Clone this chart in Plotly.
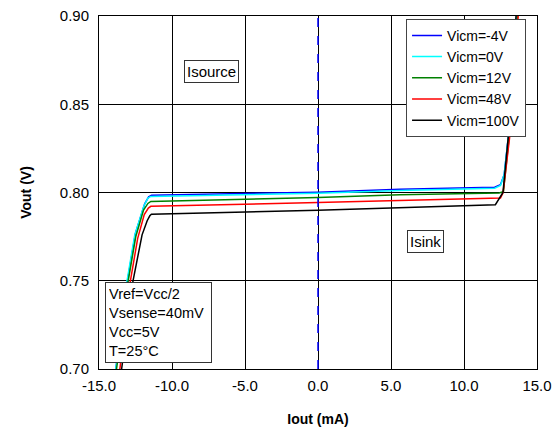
import plotly.graph_objects as go

# ---- data ----
series_names = ["Vicm=-4V", "Vicm=0V", "Vicm=12V", "Vicm=48V", "Vicm=100V"]
series_colors = ["#0000ff", "#00ffff", "#008000", "#ff0000", "#000000"]

x_m4 = [-13.85, -13.05, -12.5, -11.87, -11.6, -11.4, 0.0, 5.6, 12.1, 12.5, 12.75, 13.15, 13.65]
y_m4 = [0.700, 0.750, 0.777, 0.7936, 0.7975, 0.7985, 0.8002, 0.8018, 0.8030, 0.8045, 0.8100, 0.8400, 0.9050]

x_0 = [-13.85, -13.08, -12.55, -11.92, -11.65, -11.45, 0.0, 5.6, 12.1, 12.5, 12.75, 13.15, 13.65]
y_0 = [0.700, 0.750, 0.776, 0.7925, 0.7968, 0.7978, 0.7996, 0.8012, 0.8024, 0.8040, 0.8100, 0.8400, 0.9050]

x_12 = [-13.8, -13.0, -12.48, -11.95, -11.65, -11.45, 0.0, 5.6, 12.4, 12.7, 13.2, 13.7]
y_12 = [0.700, 0.750, 0.775, 0.7900, 0.7938, 0.7949, 0.7971, 0.7987, 0.7997, 0.8005, 0.8400, 0.9050]

x_48 = [-13.57, -12.85, -12.35, -11.9, -11.62, -11.45, 0.0, 5.6, 12.5, 12.68, 13.25, 13.75]
y_48 = [0.700, 0.750, 0.774, 0.7875, 0.7912, 0.7922, 0.7943, 0.7956, 0.7969, 0.8000, 0.8400, 0.9050]

x_100 = [-13.45, -12.67, -12.05, -11.7, -11.52, -11.41, 0.0, 5.6, 12.15, 12.67, 13.13, 13.6]
y_100 = [0.700, 0.750, 0.776, 0.7840, 0.7868, 0.7877, 0.7900, 0.7913, 0.7931, 0.8000, 0.8400, 0.9050]

xs = [x_m4, x_0, x_12, x_48, x_100]
ys = [y_m4, y_0, y_12, y_48, y_100]

x_ticks = [-15, -10, -5, 0, 5, 10, 15]
x_tick_labels = ["-15.0", "-10.0", "-5.0", "0.0", "5.0", "10.0", "15.0"]
y_ticks = [0.70, 0.75, 0.80, 0.85, 0.90]
y_tick_labels = ["0.70", "0.75", "0.80", "0.85", "0.90"]

FONT = "Arial, 'Liberation Sans', sans-serif"

fig = go.Figure()
for name, color, x, y in zip(series_names, series_colors, xs, ys):
    fig.add_trace(go.Scatter(x=x, y=y, mode="lines", name=name,
                             line=dict(color=color, width=1.5)))

# dashed blue vertical line at Iout = 0
fig.add_shape(type="line", xref="x", yref="paper", x0=0, x1=0, y0=0, y1=1,
              line=dict(color="#0000ff", width=1.5, dash="dash"), layer="above")

box = dict(bordercolor="#333333", borderwidth=1, bgcolor="white",
           font=dict(family=FONT, size=15, color="black"), showarrow=False)

fig.add_annotation(text="Isource", xref="x", yref="y", x=-7.3, y=0.8687, borderpad=2, **box)
fig.add_annotation(text="Isink", xref="x", yref="y", x=7.35, y=0.772, borderpad=2, **box)
fig.add_annotation(text="Vref=Vcc/2<br>Vsense=40mV<br>Vcc=5V<br>T=25°C",
                   xref="paper", yref="paper", x=0.014, y=0.017, width=99,
                   xanchor="left", yanchor="bottom", align="left", borderpad=3,
                   **{**box, "font": dict(family=FONT, size=14.5, color="black")})

axis_common = dict(showgrid=True, gridcolor="black", gridwidth=1,
                   showline=True, linecolor="black", linewidth=1, mirror=True,
                   ticks="", zeroline=False, automargin=False,
                   ticklabeloverflow="allow",
                   tickfont=dict(family=FONT, size=15, color="black"))

fig.update_layout(
    width=552, height=426,
    margin=dict(l=91, r=23, t=8, b=65),
    paper_bgcolor="white", plot_bgcolor="white",
    font=dict(family=FONT, size=15, color="black"),
    showlegend=True,
    legend=dict(x=0.975, y=0.992, xanchor="right", yanchor="top",
                bgcolor="white", bordercolor="#444444", borderwidth=1,
                font=dict(family=FONT, size=14, color="black"),
                tracegroupgap=0),
    xaxis=dict(range=[-15, 15], tickvals=x_ticks, ticktext=x_tick_labels,
               ticklabelstandoff=3,
               title=dict(text="<b>Iout (mA)</b>", font=dict(family=FONT, size=14), standoff=21),
               **axis_common),
    yaxis=dict(range=[0.70, 0.90], tickvals=y_ticks, ticktext=y_tick_labels,
               ticklabelstandoff=6,
               title=dict(text="<b>Vout (V)</b>", font=dict(family=FONT, size=14), standoff=24),
               **axis_common),
)

fig.write_html("out.html")
